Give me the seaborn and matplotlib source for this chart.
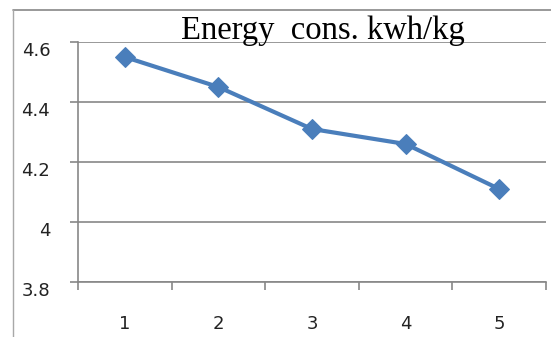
import matplotlib
matplotlib.use("Agg")
import matplotlib.pyplot as plt
import matplotlib.transforms as mtransforms
from matplotlib.lines import Line2D
import seaborn as sns
import pandas as pd
import numpy as np

categories = ["1", "2", "3", "4", "5"]
energy = [4.55, 4.45, 4.31, 4.26, 4.11]
y_ticks = [3.8, 4.0, 4.2, 4.4, 4.6]
y_tick_labels = ["3.8", "4", "4.2", "4.4", "4.6"]
title = "Energy  cons. kwh/kg"

sns.set_theme(style="white")
plt.rcParams["font.family"] = ["DejaVu Sans"]

W, H = 551, 337
fig = plt.figure(figsize=(W / 100, H / 100), dpi=100)
ax = fig.add_axes([78 / W, 1 - 282 / H, (546 - 78) / W, (282 - 42) / H])

df = pd.DataFrame({"pos": np.arange(len(categories)), "value": energy})
grid_c = "#878787"
line_c = "#4a7ebb"

sns.lineplot(data=df, x="pos", y="value", ax=ax, color=line_c, linewidth=3,
             marker="D", markersize=10, markeredgecolor=line_c, zorder=5)

ax.set_xlim(-0.5, len(categories) - 0.5)
ax.set_ylim(y_ticks[0], y_ticks[-1])
ax.set_xlabel("")
ax.set_ylabel("")

# x-axis: boundary ticks, labels at centers
ax.set_xticks(np.arange(-0.5, len(categories), 1.0))
ax.set_xticklabels([])
ax.set_xticks(np.arange(len(categories)), minor=True)
ax.set_xticklabels(categories, minor=True)
ax.tick_params(axis="x", which="major", direction="out", length=6, width=1.2,
               color=grid_c, bottom=True)
ax.tick_params(axis="x", which="minor", length=0, pad=24, labelsize=13,
               labelcolor="#222222")

ax.set_yticks(y_ticks)
ax.set_yticklabels(y_tick_labels)
ax.tick_params(axis="y", which="major", direction="out", length=6, width=1.2,
               color=grid_c, left=True, pad=14, labelsize=13, labelcolor="#222222")
offset = mtransforms.ScaledTranslation(0, -7 / 100, fig.dpi_scale_trans)
for lab in ax.get_yticklabels():
    lab.set_transform(lab.get_transform() + offset)

ax.yaxis.grid(True, color=grid_c, linewidth=1.2)
ax.xaxis.grid(False)
for s in ["top", "right"]:
    ax.spines[s].set_visible(False)
for s in ["left", "bottom"]:
    ax.spines[s].set_color(grid_c)
    ax.spines[s].set_linewidth(1.2)

# outer chart border (partially visible)
fig.add_artist(Line2D([13 / W, 1.0], [1 - 10 / H, 1 - 10 / H], transform=fig.transFigure,
                      color=grid_c, linewidth=1.2))
fig.add_artist(Line2D([13 / W, 13 / W], [0, 1 - 10 / H], transform=fig.transFigure,
                      color="#a8a8a8", linewidth=1.0))

fig.text(323 / W, 1 - 39 / H, title, ha="center", va="baseline",
         family=["Liberation Serif", "DejaVu Serif"], fontsize=23.5, color="black")

fig.savefig("out.png", dpi=100, facecolor="white")
